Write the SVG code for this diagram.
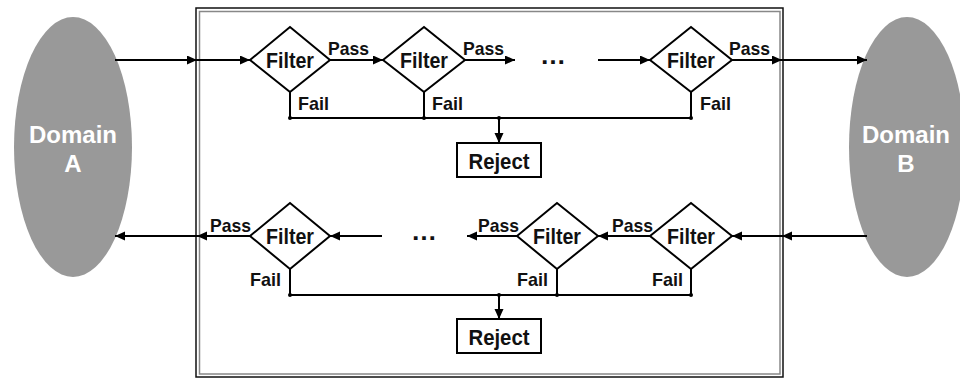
<svg xmlns="http://www.w3.org/2000/svg" width="960" height="379" viewBox="0 0 960 379">
<style>
.ln{stroke:#000;stroke-width:2;fill:none}
.dia{stroke:#000;stroke-width:2;fill:#fff}
.box{stroke:#000;stroke-width:2;fill:#fff}
.t{font-family:"Liberation Sans",Arial,sans-serif;font-weight:bold;fill:#111}
.f{font-size:22px;text-anchor:middle}
.s{font-size:19px}
.d{font-size:24px;text-anchor:middle;fill:#fff}
.dots{font-size:26px;text-anchor:middle}
.dom{fill:#999}
</style>
<defs>
<marker id="ah" markerUnits="userSpaceOnUse" markerWidth="11" markerHeight="10" refX="10" refY="4.5" orient="auto">
<path d="M0,0 L10,4.5 L0,9 z" fill="#000"/>
</marker>
</defs>
<rect width="960" height="379" fill="#fff"/>
<g id="frame">
<rect x="196" y="8" width="587" height="369" fill="none" stroke="#111" stroke-width="1.5"/>
<rect x="199.5" y="11.5" width="580.5" height="362.5" fill="none" stroke="#888" stroke-width="1.5"/>
</g>
<g id="domainA">
<ellipse class="dom" cx="73" cy="147" rx="59" ry="130"/>
<text class="t d" x="73" y="143">Domain</text>
<text class="t d" x="73" y="172">A</text>
</g>
<g id="domainB">
<ellipse class="dom" cx="907" cy="147" rx="58" ry="130"/>
<text class="t d" x="906" y="143">Domain</text>
<text class="t d" x="906" y="172">B</text>
</g>
<g id="connectors">
<path class="ln" d="M115,60 L197,60" marker-end="url(#ah)"/>
<path class="ln" d="M197,60 L250,60" marker-end="url(#ah)"/>
<path class="ln" d="M330,60 L383,60" marker-end="url(#ah)"/>
<path class="ln" d="M465,60 L515,60" marker-end="url(#ah)"/>
<path class="ln" d="M598,60 L650,60" marker-end="url(#ah)"/>
<path class="ln" d="M732,60 L782,60" marker-end="url(#ah)"/>
<path class="ln" d="M782,60 L867,60" marker-end="url(#ah)"/>
<path class="ln" d="M290,92 L290,118 M424,92 L424,118 M691,92 L691,118 M290,118 L691,118"/>
<path class="ln" d="M499,118 L499,143" marker-end="url(#ah)"/>
<circle cx="290" cy="118" r="2"/><circle cx="424" cy="118" r="2"/><circle cx="691" cy="118" r="2"/><circle cx="499" cy="118" r="2"/>
<path class="ln" d="M867,236 L782,236" marker-end="url(#ah)"/>
<path class="ln" d="M782,236 L732,236" marker-end="url(#ah)"/>
<path class="ln" d="M650,236 L598,236" marker-end="url(#ah)"/>
<path class="ln" d="M517,236 L467,236" marker-end="url(#ah)"/>
<path class="ln" d="M382,236 L330,236" marker-end="url(#ah)"/>
<path class="ln" d="M250,236 L197,236" marker-end="url(#ah)"/>
<path class="ln" d="M197,236 L115,236" marker-end="url(#ah)"/>
<path class="ln" d="M290,269 L290,295 M557,269 L557,295 M691,269 L691,295 M290,295 L691,295"/>
<path class="ln" d="M499,295 L499,319" marker-end="url(#ah)"/>
<circle cx="290" cy="295" r="2"/><circle cx="557" cy="295" r="2"/><circle cx="691" cy="295" r="2"/><circle cx="499" cy="295" r="2"/>
<text class="t dots" x="553" y="64">…</text>
<text class="t dots" x="424" y="240">…</text>
<text class="t s" x="328" y="55" textLength="41" lengthAdjust="spacingAndGlyphs">Pass</text>
<text class="t s" x="463" y="55" textLength="41" lengthAdjust="spacingAndGlyphs">Pass</text>
<text class="t s" x="729" y="55" textLength="41" lengthAdjust="spacingAndGlyphs">Pass</text>
<text class="t s" x="298" y="110" textLength="31" lengthAdjust="spacingAndGlyphs">Fail</text>
<text class="t s" x="432" y="110" textLength="31" lengthAdjust="spacingAndGlyphs">Fail</text>
<text class="t s" x="700" y="110" textLength="31" lengthAdjust="spacingAndGlyphs">Fail</text>
<text class="t s" x="210" y="232" textLength="41" lengthAdjust="spacingAndGlyphs">Pass</text>
<text class="t s" x="478" y="232" textLength="41" lengthAdjust="spacingAndGlyphs">Pass</text>
<text class="t s" x="612" y="232" textLength="41" lengthAdjust="spacingAndGlyphs">Pass</text>
<text class="t s" x="250" y="286" textLength="31" lengthAdjust="spacingAndGlyphs">Fail</text>
<text class="t s" x="517" y="286" textLength="31" lengthAdjust="spacingAndGlyphs">Fail</text>
<text class="t s" x="652" y="286" textLength="31" lengthAdjust="spacingAndGlyphs">Fail</text>
</g>
<g id="filterT1"><path class="dia" d="M250,60 L290,27 L330,60 L290,92 z"/><text class="t f" x="290" y="68" textLength="48" lengthAdjust="spacingAndGlyphs">Filter</text></g>
<g id="filterT2"><path class="dia" d="M383,60 L424,27 L465,60 L424,92 z"/><text class="t f" x="424" y="68" textLength="48" lengthAdjust="spacingAndGlyphs">Filter</text></g>
<g id="filterT3"><path class="dia" d="M650,60 L691,27 L732,60 L691,92 z"/><text class="t f" x="691" y="68" textLength="48" lengthAdjust="spacingAndGlyphs">Filter</text></g>
<g id="rejectT"><rect class="box" x="457" y="143" width="84" height="34"/><text class="t f" x="499" y="169" textLength="61" lengthAdjust="spacingAndGlyphs">Reject</text></g>
<g id="filterB1"><path class="dia" d="M250,236 L290,203 L330,236 L290,269 z"/><text class="t f" x="290" y="244" textLength="48" lengthAdjust="spacingAndGlyphs">Filter</text></g>
<g id="filterB2"><path class="dia" d="M517,236 L557,203 L598,236 L557,269 z"/><text class="t f" x="557" y="244" textLength="48" lengthAdjust="spacingAndGlyphs">Filter</text></g>
<g id="filterB3"><path class="dia" d="M650,236 L691,203 L732,236 L691,269 z"/><text class="t f" x="691" y="244" textLength="48" lengthAdjust="spacingAndGlyphs">Filter</text></g>
<g id="rejectB"><rect class="box" x="457" y="319" width="84" height="34"/><text class="t f" x="499" y="345" textLength="61" lengthAdjust="spacingAndGlyphs">Reject</text></g>
</svg>
